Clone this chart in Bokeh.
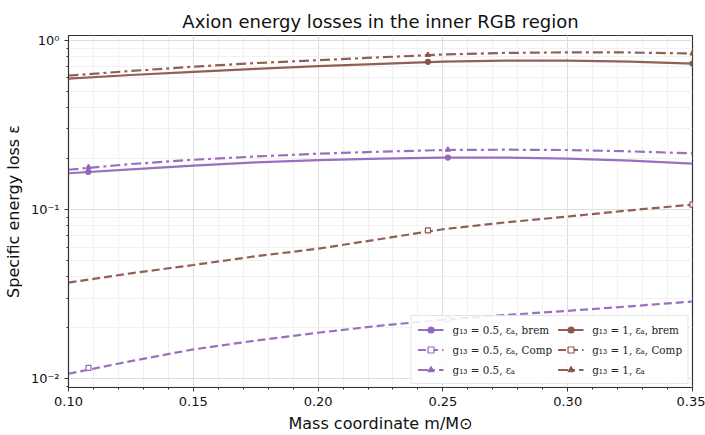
from bokeh.plotting import figure
from bokeh.models import (Legend, LegendItem, CustomJSTickFormatter, FixedTicker,
                          NumeralTickFormatter, ColumnDataSource)
from bokeh.embed import file_html
from bokeh.resources import INLINE

# ---- data ----
mass = [0.100, 0.125, 0.150, 0.175, 0.200, 0.225, 0.250, 0.275, 0.300, 0.325, 0.350]

p05_brem = [0.164, 0.173, 0.182, 0.190, 0.196, 0.200, 0.203, 0.203, 0.200, 0.195, 0.187]
p05_comp = [0.0107, 0.0127, 0.0149, 0.0168, 0.0187, 0.0206, 0.0223, 0.0238, 0.0252, 0.0268, 0.0286]
p05_tot = [0.172, 0.186, 0.197, 0.206, 0.214, 0.220, 0.225, 0.226, 0.225, 0.221, 0.215]

p1_brem = [0.595, 0.625, 0.652, 0.680, 0.705, 0.728, 0.750, 0.760, 0.760, 0.750, 0.730]
p1_comp = [0.037, 0.042, 0.047, 0.053, 0.0587, 0.067, 0.0765, 0.084, 0.091, 0.099, 0.107]
p1_tot = [0.620, 0.660, 0.700, 0.735, 0.765, 0.795, 0.826, 0.844, 0.851, 0.849, 0.837]

# marker positions
mk05_x = [0.108, 0.252]
mk05_brem = [0.167, 0.203]
mk05_comp = [0.0116, 0.0224]
mk05_tot = [0.178, 0.226]
mk1_x = [0.244, 0.350]
mk1_brem = [0.748, 0.730]
mk1_comp = [0.0753, 0.107]
mk1_tot = [0.822, 0.837]

labels05 = ["g₁₃ = 0.5, εₐ, brem", "g₁₃ = 0.5, εₐ, Comp", "g₁₃ = 0.5, εₐ"]
labels1 = ["g₁₃ = 1, εₐ, brem", "g₁₃ = 1, εₐ, Comp", "g₁₃ = 1, εₐ"]

PURPLE = "#9467bd"
BROWN = "#8c564b"

p = figure(width=705, height=435, y_axis_type="log",
           x_range=(0.1, 0.35), y_range=(0.00887, 1.07),
           output_backend="svg", toolbar_location=None,
           title="Axion energy losses in the inner RGB region")
p.min_border_left = 66
p.min_border_right = 13
p.min_border_top = 35
p.min_border_bottom = 10
p.background_fill_color = "white"
p.border_fill_color = "white"
p.outline_line_color = "#333333"
p.outline_line_width = 1.2

p.title.align = "center"
p.title.text_font = "DejaVu Sans"
p.title.text_font_size = "18px"
p.title.text_font_style = "normal"
p.title.text_color = "#111111"
p.title.standoff = 8

p.xaxis.axis_label = "Mass coordinate m/M⊙"
p.yaxis.axis_label = "Specific energy loss ε"
for ax in (p.xaxis, p.yaxis):
    ax.axis_label_text_font = "DejaVu Sans"
    ax.axis_label_text_font_size = "16px"
    ax.axis_label_text_font_style = "normal"
    ax.axis_label_text_color = "#111111"
    ax.major_label_text_font = "DejaVu Sans"
    ax.major_label_text_font_size = "13px"
    ax.major_label_text_color = "#111111"
    ax.axis_line_color = "#333333"
    ax.major_tick_line_color = "#333333"
    ax.minor_tick_line_color = "#333333"
    ax.major_tick_out = 4
    ax.major_tick_in = 0
    ax.minor_tick_out = 2
    ax.minor_tick_in = 0

p.xaxis.ticker = FixedTicker(ticks=[0.10, 0.15, 0.20, 0.25, 0.30, 0.35],
                             minor_ticks=[0.10 + 0.01 * i for i in range(26)])
p.xaxis.formatter = NumeralTickFormatter(format="0.00")

yminor = [0.009] + [k * 0.01 for k in range(2, 10)] + [k * 0.1 for k in range(2, 10)]
p.yaxis.ticker = FixedTicker(ticks=[0.01, 0.1, 1.0], minor_ticks=yminor)
p.yaxis.formatter = CustomJSTickFormatter(code="""
const e = Math.round(Math.log10(tick));
const sup = {'-':'\u207b','0':'\u2070','1':'\u00b9','2':'\u00b2','3':'\u00b3','4':'\u2074','5':'\u2075','6':'\u2076','7':'\u2077','8':'\u2078','9':'\u2079'};
return '10' + String(e).split('').map(c => sup[c]).join('');
""")

p.xgrid.grid_line_color = "#dedede"
p.ygrid.grid_line_color = "#dedede"
p.xgrid.minor_grid_line_color = "#f1f1f1"
p.ygrid.minor_grid_line_color = "#f1f1f1"

styles = ["solid", "8 4", "10 4 3 4"]
markers = ["circle", "square", "triangle"]

items05 = []
items1 = []
for color, ys, mkx, mky, labels, items in [
        (PURPLE, [p05_brem, p05_comp, p05_tot], mk05_x, [mk05_brem, mk05_comp, mk05_tot], labels05, items05),
        (BROWN, [p1_brem, p1_comp, p1_tot], mk1_x, [mk1_brem, mk1_comp, mk1_tot], labels1, items1)]:
    for i in range(3):
        src = ColumnDataSource(dict(x=mass, y=ys[i]))
        r1 = p.line("x", "y", source=src, line_color=color, line_width=2.2,
                    line_dash=styles[i], line_alpha=0.95)
        msrc = ColumnDataSource(dict(x=mkx, y=mky[i]))
        fill = "white" if markers[i] == "square" else color
        r2 = p.scatter("x", "y", source=msrc, marker=markers[i], size=5,
                       line_color=color, fill_color=fill, line_width=1.2)
        items.append(LegendItem(label=labels[i], renderers=[r1, r2]))

legend = Legend(items=items05 + items1, location="bottom_right", nrows=3)
legend.label_text_font = "'DejaVu Serif Condensed', 'DejaVu Serif'"
legend.label_text_font_size = "11.5px"
legend.label_text_color = "#222222"
legend.glyph_width = 26
legend.glyph_height = 15
legend.label_standoff = 9
legend.spacing = 5
legend.padding = 6
legend.margin = 3
legend.background_fill_alpha = 0.85
legend.border_line_color = "#cccccc"
legend.border_line_width = 1
p.add_layout(legend)

open("out.html", "w").write(file_html(p, INLINE))
